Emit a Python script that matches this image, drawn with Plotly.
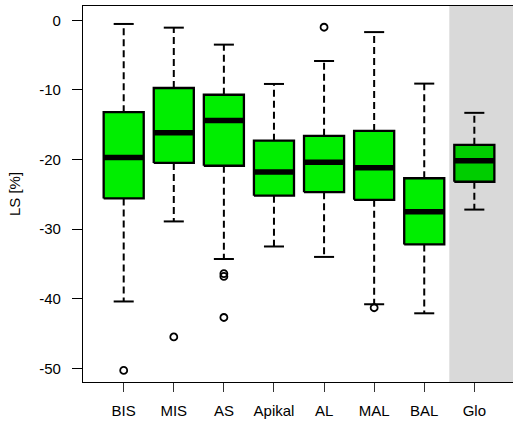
import plotly.graph_objects as go

categories = ["BIS", "MIS", "AS", "Apikal", "AL", "MAL", "BAL", "Glo"]
lower_whisker = [-40.4, -28.9, -34.3, -32.5, -34.0, -40.8, -42.1, -27.2]
q1 = [-25.6, -20.5, -20.9, -25.2, -24.7, -25.8, -32.2, -23.2]
median = [-19.7, -16.15, -14.4, -21.8, -20.4, -21.2, -27.5, -20.2]
q3 = [-13.2, -9.73, -10.7, -17.3, -16.6, -15.9, -22.7, -17.9]
upper_whisker = [-0.53, -1.06, -3.5, -9.15, -5.85, -1.7, -9.1, -13.3]
outliers = [[-50.3], [-45.5], [-36.4, -36.8, -42.7], [], [-1.0], [-41.3], [], []]
box_colors = ["#00EE00"] * 7 + ["#00CD00"]
y_ticks = [0, -10, -20, -30, -40, -50]

BOXW = 0.4
CAPW = 0.2

fig = go.Figure()

for i, cat in enumerate(categories):
    x = i + 1
    # dashed whiskers
    fig.add_trace(go.Scatter(
        x=[x, x, None, x, x],
        y=[q3[i], upper_whisker[i], None, q1[i], lower_whisker[i]],
        mode="lines", line=dict(color="black", width=2, dash="7px,4px"),
        hoverinfo="skip", showlegend=False))
    # caps
    fig.add_trace(go.Scatter(
        x=[x - CAPW, x + CAPW, None, x - CAPW, x + CAPW],
        y=[upper_whisker[i], upper_whisker[i], None, lower_whisker[i], lower_whisker[i]],
        mode="lines", line=dict(color="black", width=2),
        hoverinfo="skip", showlegend=False))
    # box
    fig.add_trace(go.Scatter(
        x=[x - BOXW, x + BOXW, x + BOXW, x - BOXW, x - BOXW],
        y=[q1[i], q1[i], q3[i], q3[i], q1[i]],
        mode="lines", fill="toself", fillcolor=box_colors[i],
        line=dict(color="black", width=2.3),
        hoverinfo="skip", showlegend=False))
    # median
    fig.add_trace(go.Scatter(
        x=[x - BOXW, x + BOXW], y=[median[i], median[i]],
        mode="lines", line=dict(color="black", width=5.5),
        hoverinfo="skip", showlegend=False))
    # outliers
    if outliers[i]:
        fig.add_trace(go.Scatter(
            x=[x] * len(outliers[i]), y=outliers[i], mode="markers",
            marker=dict(symbol="circle-open", size=7, color="black",
                        line=dict(width=1.8, color="black")),
            hoverinfo="skip", showlegend=False))

fig.add_shape(type="rect", xref="x", yref="paper", x0=7.5, x1=9, y0=0, y1=1,
              fillcolor="#D9D9D9", line=dict(width=0), layer="below")

font = dict(family="Liberation Sans, Arial, sans-serif", size=15, color="black")

fig.update_layout(
    width=513, height=423,
    margin=dict(l=83, r=0, t=6, b=41),
    paper_bgcolor="white", plot_bgcolor="white",
    font=font,
    xaxis=dict(range=[0.1875, 8.772], tickvals=list(range(1, len(categories) + 1)),
               ticktext=categories, showgrid=False, zeroline=False,
               showline=True, linecolor="black", linewidth=1.3, mirror=True,
               ticks="outside", ticklen=9, tickwidth=1, tickcolor="#333333",
               ticklabelstandoff=6, tickfont=font),
    yaxis=dict(range=[-51.97, 2.05], tickvals=y_ticks,
               ticktext=[str(v) for v in y_ticks], showgrid=False, zeroline=False,
               showline=True, linecolor="black", linewidth=1.3, mirror=False,
               ticks="outside", ticklen=10, tickwidth=1.3, tickcolor="black",
               ticklabelstandoff=8, tickfont=font,
               title=dict(text="LS [%]", font=font, standoff=14)),
)

fig.write_html("out.html")
